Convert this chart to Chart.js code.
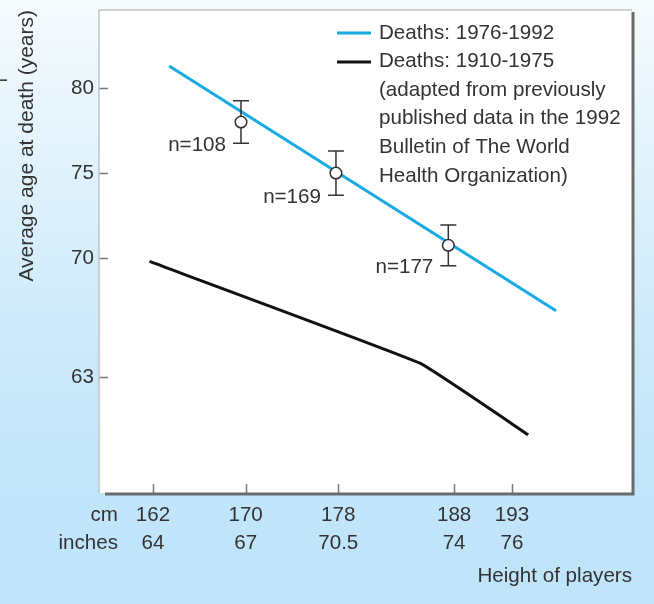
<!DOCTYPE html>
<html>
<head>
<meta charset="utf-8">
<script src="https://cdn.jsdelivr.net/npm/chart.js@4.4.0/dist/chart.umd.min.js"></script>
<style>
    html, body { margin: 0; padding: 0; }
    body {
        width: 654px; height: 604px; overflow: hidden;
        background: linear-gradient(to bottom, #f6fbfe 0%, #e2f3fc 25%, #cdeafb 55%, #c1e5fa 80%, #bfe3f9 100%);
    }
</style>
</head>
<body>
<canvas id="heightChart" width="654" height="604"></canvas>
<script>
    // Trục x: chiều cao (cm) và nhãn inch tương ứng
    const xTicksCm = [162, 170, 178, 188, 193];
    const xTicksIn = ['64', '67', '70.5', '74', '76'];
    const yTicks = [63, 70, 75, 80];

    // Đường hồi quy 1976-1992
    const recentX = [163.4, 196.8];
    const recentY = [81.3, 66.9];

    // Đường 1910-1975
    const olderX = [161.7, 185.1, 194.4];
    const olderY = [69.8, 63.8, 59.6];

    // Các điểm trung bình với sai số
    const pointX = [169.6, 177.8, 187.5];
    const pointY = [78.0, 75.0, 70.75];
    const pointErr = [1.25, 1.3, 1.2];
    const pointLabels = ['n=108', 'n=169', 'n=177'];

    const legendLines = [
        'Deaths: 1976-1992',
        'Deaths: 1910-1975',
        '(adapted from previously',
        'published data in the 1992',
        'Bulletin of The World',
        'Health Organization)'
    ];

    const BLUE = '#17aae4';
    const TEXT = '#333333';
    const FONT = '"Liberation Sans", Arial, sans-serif';
    const FS = 20.6;

    Chart.defaults.font.family = FONT;
    Chart.defaults.color = TEXT;

    const toXY = (xs, ys) => xs.map((x, i) => ({ x: x, y: ys[i] }));

    // Nền trắng cho vùng biểu đồ
    const areaBackground = {
        id: 'areaBackground',
        beforeDraw(chart) {
            const { ctx, chartArea: a } = chart;
            ctx.save();
            ctx.fillStyle = '#ffffff';
            ctx.fillRect(a.left, a.top, a.right - a.left, a.bottom - a.top);
            ctx.restore();
        }
    };

    // Thanh sai số vẽ trước các điểm tròn
    const errorBars = {
        id: 'errorBars',
        beforeDatasetDraw(chart, args) {
            if (args.index !== 0) return;
            const { ctx, scales: { x, y } } = chart;
            ctx.save();
            ctx.strokeStyle = '#333';
            ctx.lineWidth = 1.5;
            ctx.font = FS + 'px ' + FONT;
            ctx.fillStyle = TEXT;
            ctx.textAlign = 'right';
            ctx.textBaseline = 'middle';
            pointX.forEach((v, i) => {
                const px = x.getPixelForValue(v);
                const top = y.getPixelForValue(pointY[i] + pointErr[i]);
                const bot = y.getPixelForValue(pointY[i] - pointErr[i]);
                ctx.beginPath();
                ctx.moveTo(px, top); ctx.lineTo(px, bot);
                ctx.moveTo(px - 8, top); ctx.lineTo(px + 8, top);
                ctx.moveTo(px - 8, bot); ctx.lineTo(px + 8, bot);
                ctx.stroke();
                ctx.fillText(pointLabels[i], px - 15, bot + 2);
            });
            ctx.restore();
        }
    };

    // Khung, vạch chia hướng vào trong, chú thích, nhãn cm/inches
    const frameAndLegend = {
        id: 'frameAndLegend',
        afterDraw(chart) {
            const { ctx, chartArea: a, scales: { x, y } } = chart;
            ctx.save();

            // vạch chia
            ctx.strokeStyle = '#7a7a7a';
            ctx.lineWidth = 1.5;
            ctx.beginPath();
            xTicksCm.forEach(v => {
                const px = Math.round(x.getPixelForValue(v)) + 0.5;
                ctx.moveTo(px, a.bottom); ctx.lineTo(px, a.bottom - 9);
            });
            yTicks.forEach(v => {
                const py = Math.round(y.getPixelForValue(v)) + 0.5;
                ctx.moveTo(a.left, py); ctx.lineTo(a.left + 9, py);
            });
            ctx.stroke();

            // khung
            ctx.strokeStyle = '#c4c4c4';
            ctx.lineWidth = 1.5;
            ctx.beginPath();
            ctx.moveTo(a.left, a.bottom); ctx.lineTo(a.left, a.top); ctx.lineTo(a.right, a.top);
            ctx.stroke();
            ctx.strokeStyle = '#6a6a6a';
            ctx.lineWidth = 3;
            ctx.beginPath();
            ctx.moveTo(a.left + 6, a.bottom + 1); ctx.lineTo(a.right + 1, a.bottom + 1); ctx.lineTo(a.right + 1, a.top + 2);
            ctx.stroke();

            // chú thích
            ctx.lineWidth = 3;
            ctx.strokeStyle = BLUE;
            ctx.beginPath(); ctx.moveTo(337, 33); ctx.lineTo(371, 33); ctx.stroke();
            ctx.strokeStyle = '#111';
            ctx.beginPath(); ctx.moveTo(337, 62); ctx.lineTo(371, 62); ctx.stroke();
            ctx.font = FS + 'px ' + FONT;
            ctx.fillStyle = TEXT;
            ctx.textAlign = 'left';
            ctx.textBaseline = 'middle';
            legendLines.forEach((t, i) => ctx.fillText(t, 379, 33 + i * 28.6));

            // nhãn đơn vị trục x
            ctx.textAlign = 'right';
            ctx.fillText('cm', 118, 515);
            ctx.fillText('inches', 118, 543);

            // vệt nhỏ ở góc trái
            ctx.fillStyle = '#111';
            ctx.fillRect(0, 79.5, 7, 1.3);
            ctx.restore();
        }
    };

    const ctx = document.getElementById('heightChart').getContext('2d');
    new Chart(ctx, {
        data: {
            datasets: [{
                type: 'scatter',
                data: toXY(pointX, pointY),
                backgroundColor: '#ffffff',
                borderColor: '#333333',
                borderWidth: 1.5,
                pointRadius: 5.8,
                order: 0
            }, {
                type: 'line',
                label: 'Deaths: 1976-1992',
                data: toXY(recentX, recentY),
                borderColor: BLUE,
                borderWidth: 3,
                pointRadius: 0,
                tension: 0,
                order: 1
            }, {
                type: 'line',
                label: 'Deaths: 1910-1975',
                data: toXY(olderX, olderY),
                borderColor: '#111111',
                borderWidth: 3,
                pointRadius: 0,
                tension: 0.08,
                borderJoinStyle: 'round',
                order: 2
            }]
        },
        options: {
            responsive: false,
            animation: false,
            layout: { padding: { top: 10, right: 22, left: 0, bottom: 0 } },
            plugins: {
                legend: { display: false },
                tooltip: { enabled: false }
            },
            scales: {
                x: {
                    type: 'linear',
                    min: 157.34,
                    max: 203.36,
                    grid: { display: false, drawTicks: false },
                    border: { display: false },
                    afterBuildTicks: scale => { scale.ticks = xTicksCm.map(v => ({ value: v })); },
                    afterFit: scale => {
                        scale.height = 111;
                        scale.paddingLeft = 0;
                        scale.paddingRight = 0;
                    },
                    ticks: {
                        padding: 8,
                        maxRotation: 0,
                        autoSkip: false,
                        font: { size: FS, lineHeight: 1.36 },
                        color: TEXT,
                        callback: function (value) {
                            const i = xTicksCm.indexOf(value);
                            return [String(value), xTicksIn[i]];
                        }
                    },
                    title: {
                        display: true,
                        text: 'Height of players',
                        align: 'end',
                        font: { size: FS, lineHeight: 1.2 },
                        color: TEXT,
                        padding: { top: 0, bottom: 15 }
                    }
                },
                y: {
                    type: 'linear',
                    min: 56.18,
                    max: 84.59,
                    grid: { display: false, drawTicks: false },
                    border: { display: false },
                    afterBuildTicks: scale => { scale.ticks = yTicks.map(v => ({ value: v })); },
                    afterFit: scale => {
                        scale.width = 99;
                        scale.paddingTop = 0;
                        scale.paddingBottom = 0;
                    },
                    ticks: {
                        padding: 5,
                        autoSkip: false,
                        font: { size: FS },
                        color: TEXT
                    },
                    title: {
                        display: true,
                        text: 'Average age at death (years)',
                        align: 'end',
                        font: { size: 21, lineHeight: 1.2 },
                        color: TEXT,
                        padding: { top: 15, bottom: 0 }
                    }
                }
            }
        },
        plugins: [areaBackground, errorBars, frameAndLegend]
    });
</script>
</body>
</html>
